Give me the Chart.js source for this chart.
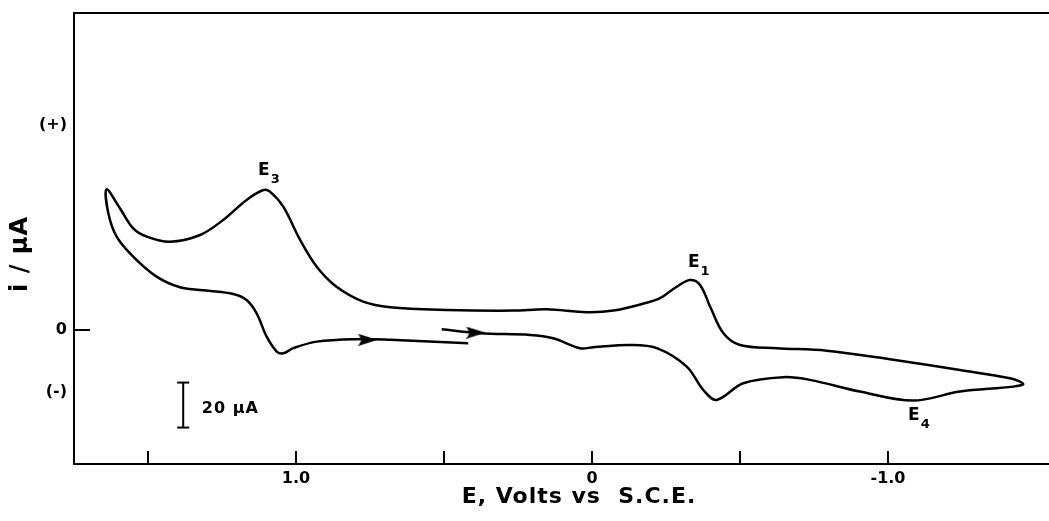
<!DOCTYPE html>
<html>
<head>
<meta charset="utf-8">
<script src="https://cdn.jsdelivr.net/npm/chart.js@4.4.1/dist/chart.umd.min.js"></script>
<style>
  html, body { margin: 0; padding: 0; background: #fff; }
</style>
</head>
<body>
<canvas id="cv" width="1049" height="521"></canvas>
<script>
// cyclic voltammogram, traced in scan order:
// start near +0.5 V, sweep negative to the vertex, back to the positive vertex, then down again
var potential = [
  0.508, 0.378, 0.209, 0.131, 0.041, -0.004, -0.128, -0.219, -0.320, -0.376,
  -0.421, -0.511, -0.646, -0.736, -0.905, -1.085, -1.243, -1.423, -1.457,
  -1.412, -1.243, -1.018, -0.793, -0.624, -0.500, -0.444, -0.399, -0.365, -0.331,
  -0.286, -0.230, -0.185, -0.072, 0.018, 0.153, 0.266, 0.491, 0.682, 0.773,
  0.863, 0.930, 0.986, 1.043, 1.088, 1.110, 1.167, 1.246, 1.324, 1.426,
  1.504, 1.550, 1.595, 1.640,
  1.634, 1.606, 1.550, 1.471, 1.392, 1.302, 1.212, 1.167, 1.133, 1.099,
  1.065, 1.043, 1.009, 0.930, 0.795, 0.682, 0.418
];
var current = [
  0.3, -1.5, -2.2, -3.7, -8.1, -7.7, -6.7, -8.1, -16.3, -26.7,
  -31.1, -23.7, -21.0, -22.2, -27.4, -31.4, -27.4, -25.2, -24.0,
  -21.5, -17.8, -13.3, -9.2, -8.1, -6.7, -1.5, 10.4, 20.0, 22.2,
  19.2, 14.1, 12.1, 8.6, 7.9, 9.2, 8.6, 8.9, 10.1, 12.6,
  19.2, 28.1, 40.0, 54.8, 61.5, 62.2, 57.8, 48.9, 42.2, 39.2,
  41.5, 45.2, 54.1, 62.5,
  51.9, 41.5, 32.6, 23.7, 19.0, 17.5, 16.0, 13.3, 7.4, -3.0,
  -9.6, -10.4, -8.1, -5.2, -4.1, -4.4, -5.9
];

// scan direction arrows (potential, current)
var arrowPotential = [0.757, 0.392];
var arrowCurrent = [-4.4, -1.2];

// 20 uA scale bar
var scaleBarPotential = [1.381, 1.381];
var scaleBarCurrent = [-23.4, -43.4];

var xTickValues = [1.5, 1.0, 0.5, 0, -0.5, -1.0];
var xTickLabels = ['', '1.0', '', '0', '', '-1.0'];
var yTickValues = [-27.6, 0, 91.1];
var yTickLabels = ['(-)', '0', '(+)'];

function toPoints(xs, ys) {
  var pts = [];
  for (var i = 0; i < xs.length; i++)
    pts.push({x: xs[i], y: ys[i]});
  return pts;
}

// arrowhead used as point style
var arrowHead = document.createElement('canvas');
arrowHead.width = 19;
arrowHead.height = 12;
(function(){
  var c = arrowHead.getContext('2d');
  c.fillStyle = '#000';
  c.beginPath();
  c.moveTo(0, 0);
  c.lineTo(19, 6);
  c.lineTo(0, 12);
  c.lineTo(3, 6);
  c.closePath();
  c.fill();
})();

var FONT = '"DejaVu Sans", sans-serif';

var decorations = {
  id: 'decorations',
  afterDraw: function(chart) {
    var ctx = chart.ctx;
    var sx = chart.scales.x, sy = chart.scales.y;
    var area = chart.chartArea;
    ctx.save();
    ctx.strokeStyle = '#000';
    ctx.fillStyle = '#000';
    ctx.lineWidth = 2;

    // top frame (right side is open)
    ctx.beginPath();
    ctx.moveTo(area.left - 1, area.top);
    ctx.lineTo(area.right, area.top);
    ctx.stroke();

    // inward tick marks
    ctx.beginPath();
    xTickValues.forEach(function(v){
      var x = sx.getPixelForValue(v);
      ctx.moveTo(x, area.bottom);
      ctx.lineTo(x, area.bottom - 13);
    });
    var y0 = sy.getPixelForValue(0);
    ctx.moveTo(area.left, y0);
    ctx.lineTo(area.left + 16, y0);
    ctx.stroke();

    // peak labels
    function peak(sub, v, i) {
      var x = sx.getPixelForValue(v), y = sy.getPixelForValue(i);
      ctx.textAlign = 'left';
      ctx.textBaseline = 'middle';
      ctx.font = 'bold 17px ' + FONT;
      ctx.fillText('E', x, y);
      var w = ctx.measureText('E').width;
      ctx.font = 'bold 13px ' + FONT;
      ctx.fillText(sub, x + w + 1, y + 9);
    }
    peak('3', 1.128, 70.7);
    peak('1', -0.324, 29.8);
    peak('4', -1.068, -38.2);

    // scale bar text
    ctx.font = 'bold 16px ' + FONT;
    ctx.letterSpacing = '1px';
    ctx.textAlign = 'left';
    ctx.textBaseline = 'middle';
    ctx.fillText('20 \u03bcA', sx.getPixelForValue(1.318), sy.getPixelForValue(-35.1));

    // axis titles
    ctx.font = 'bold 22px ' + FONT;
    ctx.letterSpacing = '1px';
    ctx.textAlign = 'center';
    ctx.textBaseline = 'middle';
    ctx.fillText('E, Volts vs  S.C.E.', sx.getPixelForValue(0.044), 497);

    ctx.save();
    ctx.translate(21, sy.getPixelForValue(33.8));
    ctx.rotate(-Math.PI / 2);
    ctx.font = 'bold 24px ' + FONT;
    ctx.letterSpacing = '1px';
    ctx.fillText('i / \u03bcA', 0, 0);
    ctx.restore();

    ctx.letterSpacing = '0px';
    ctx.restore();
  }
};

var tickFont = { family: FONT, size: 16, weight: 'bold' };
var signFont = { family: FONT, size: 16, weight: 'bold' };

new Chart(document.getElementById('cv'), {
  type: 'scatter',
  data: {
    datasets: [
      {
        data: toPoints(potential, current),
        showLine: true,
        borderColor: '#000',
        borderWidth: 2.5,
        tension: 0.35,
        pointRadius: 0,
        fill: false
      },
      {
        data: toPoints(arrowPotential, arrowCurrent),
        showLine: false,
        pointStyle: arrowHead,
        pointRadius: 6
      },
      {
        data: toPoints(scaleBarPotential, scaleBarCurrent),
        showLine: true,
        borderColor: '#000',
        borderWidth: 2,
        pointStyle: 'line',
        pointRadius: 6,
        pointBorderColor: '#000',
        pointBorderWidth: 2
      }
    ]
  },
  options: {
    responsive: false,
    animation: false,
    layout: {
      autoPadding: false,
      padding: { top: 13, right: 0, left: 0, bottom: 0 }
    },
    plugins: {
      legend: { display: false },
      tooltip: { enabled: false }
    },
    scales: {
      x: {
        type: 'linear',
        reverse: true,
        min: -1.544,
        max: 1.75,
        afterBuildTicks: function(scale) {
          scale.ticks = xTickValues.map(function(v){ return {value: v}; });
        },
        afterFit: function(scale) {
          scale.height = 57;
          scale.paddingLeft = 0;
          scale.paddingRight = 0;
        },
        grid: { display: false, tickLength: 0 },
        border: { display: true, color: '#000', width: 2 },
        ticks: {
          color: '#000',
          font: tickFont,
          padding: 5,
          maxRotation: 0,
          autoSkip: false,
          callback: function(v) {
            var k = xTickValues.indexOf(v);
            return k >= 0 ? xTickLabels[k] : '';
          }
        }
      },
      y: {
        type: 'linear',
        min: -59.6,
        max: 140.9,
        afterBuildTicks: function(scale) {
          scale.ticks = yTickValues.map(function(v){ return {value: v}; });
        },
        afterFit: function(scale) {
          scale.width = 74;
          scale.paddingTop = 0;
          scale.paddingBottom = 0;
        },
        grid: { display: false, tickLength: 0 },
        border: { display: true, color: '#000', width: 2 },
        ticks: {
          color: '#000',
          font: function(c) {
            return c.tick && c.tick.value === 0 ? tickFont : signFont;
          },
          padding: 7,
          autoSkip: false,
          callback: function(v) {
            var k = yTickValues.indexOf(v);
            return k >= 0 ? yTickLabels[k] : '';
          }
        }
      }
    }
  },
  plugins: [decorations]
});
</script>
</body>
</html>
